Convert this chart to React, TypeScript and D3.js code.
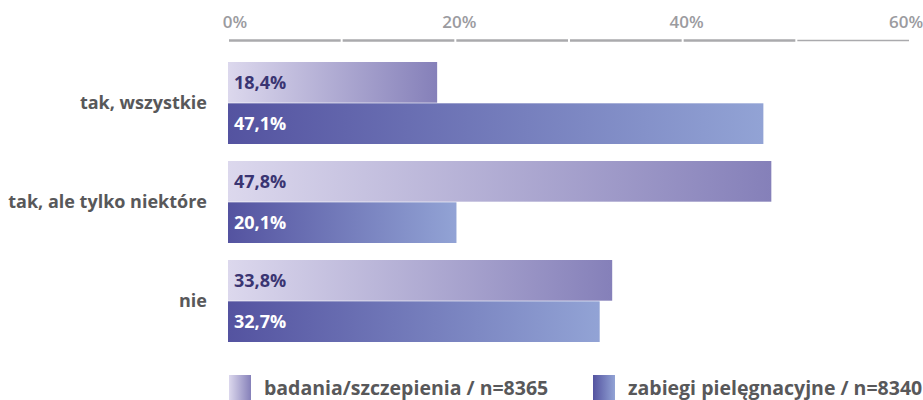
import React, { useEffect, useRef } from 'react';
import * as d3 from 'd3';

const categories = ['tak, wszystkie', 'tak, ale tylko niektóre', 'nie'];
const seriesNames = ['badania/szczepienia / n=8365', 'zabiegi pielęgnacyjne / n=8340'];
const badania = [18.4, 47.8, 33.8];
const zabiegi = [47.1, 20.1, 32.7];
const tickValues = [0, 20, 40, 60];

const W = 923;
const H = 400;

const App = () => {
  const ref = useRef<SVGSVGElement>(null);

  useEffect(() => {
    const svg = d3.select(ref.current);
    svg.selectAll('*').remove();
    const font = '"Open Sans", Lato, sans-serif';

    const defs = svg.append('defs');
    const grads = [
      { id: 'g0', from: '#dcd8ed', to: '#8580b9' },
      { id: 'g1', from: '#5453a0', to: '#92a3d5' },
    ];
    grads.forEach(g => {
      const lg = defs.append('linearGradient').attr('id', g.id)
        .attr('x1', '0%').attr('x2', '100%').attr('y1', '0%').attr('y2', '0%');
      lg.append('stop').attr('offset', '0%').attr('stop-color', g.from);
      lg.append('stop').attr('offset', '100%').attr('stop-color', g.to);
    });

    const x = d3.scaleLinear().domain([0, 60]).range([228, 910]);
    const y = d3.scaleBand<string>()
      .domain(categories)
      .range([62, 342])
      .paddingInner(17 / 99)
      .paddingOuter(0);
    const sub = d3.scaleBand<number>()
      .domain([0, 1])
      .range([0, y.bandwidth()])
      .paddingInner(0.015);

    // top axis: segmented line
    const segs = d3.range(0, 60, 10);
    svg.append('g').selectAll('line').data(segs).join('line')
      .attr('x1', d => x(d) + 1)
      .attr('x2', d => x(d + 10) - 1)
      .attr('y1', 40.5).attr('y2', 40.5)
      .attr('stroke', '#aaaaad')
      .attr('stroke-width', (d) => (d === 50 ? 1.5 : 2.5));

    svg.append('g').selectAll('text').data(tickValues).join('text')
      .attr('x', d => x(d) + (d === 0 ? 7 : d === 60 ? -4 : 4))
      .attr('y', 28)
      .attr('text-anchor', 'middle')
      .attr('font-family', font)
      .attr('font-weight', 600)
      .attr('font-size', 17)
      .attr('fill', '#9b9b9f')
      .text(d => `${d}%`);

    // category labels
    svg.append('g').selectAll('text').data(categories).join('text')
      .attr('x', 207)
      .attr('y', d => (y(d) as number) + y.bandwidth() / 2 + 6)
      .attr('text-anchor', 'end')
      .attr('font-family', font)
      .attr('font-weight', 700)
      .attr('font-size', 18)
      .attr('fill', '#58585a')
      .text(d => d);

    const series = [badania, zabiegi];
    series.forEach((vals, si) => {
      const g = svg.append('g');
      g.selectAll('rect').data(vals).join('rect')
        .attr('x', x(0))
        .attr('y', (_, i) => (y(categories[i]) as number) + (sub(si) as number))
        .attr('width', d => x(d) - x(0))
        .attr('height', sub.bandwidth())
        .attr('fill', `url(#g${si})`);
      g.selectAll('text').data(vals).join('text')
        .attr('x', x(0) + 6)
        .attr('y', (_, i) => (y(categories[i]) as number) + (sub(si) as number) + sub.bandwidth() / 2 + 6.5)
        .attr('font-family', font)
        .attr('font-weight', 700)
        .attr('font-size', 18)
        .attr('fill', si === 0 ? '#3a3572' : '#ffffff')
        .text(d => `${d.toFixed(1).replace('.', ',')}%`);
    });

    // legend
    const legX = [229, 593];
    seriesNames.forEach((name, i) => {
      svg.append('rect')
        .attr('x', legX[i]).attr('y', 375)
        .attr('width', 22).attr('height', 30)
        .attr('fill', `url(#g${i})`);
      svg.append('text')
        .attr('x', legX[i] + 35).attr('y', 395)
        .attr('font-family', font)
        .attr('font-weight', 700)
        .attr('font-size', 19.5)
        .attr('fill', '#58585a')
        .text(name);
    });
  }, []);

  return (
    <svg ref={ref} width={W} height={H}
      style={{ position: 'absolute', left: 0, top: 0, display: 'block' }} />
  );
};

export default App;
